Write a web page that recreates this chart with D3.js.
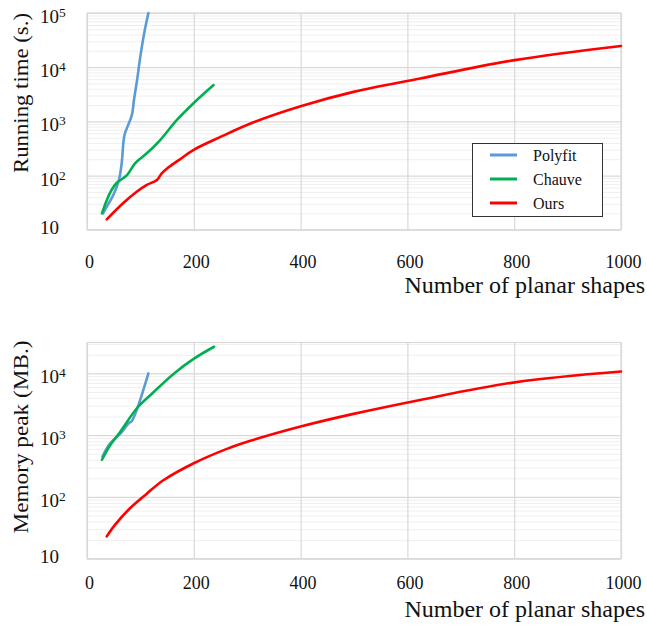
<!DOCTYPE html>
<html><head><meta charset="utf-8">
<script src="https://cdn.jsdelivr.net/npm/d3@7"></script>
<style>
body{margin:0;background:#fff}
text{font-family:"Liberation Serif","DejaVu Serif",serif;fill:#111}
</style>
</head><body>
<svg id="c" width="647" height="626"></svg>
<script>
// ---- data ----
const shapeTicks = [0, 200, 400, 600, 800, 1000];
const timeTicks = [10, 100, 1000, 10000, 100000];
const memTicks = [10, 100, 1000, 10000];
const methods = ["Polyfit", "Chauve", "Ours"];
const methodColors = ["#5B9BD5", "#00B050", "#FF0000"];

const polyfitTimeN = [30, 40, 50, 60, 65, 70, 77, 84, 88, 94, 100, 107, 115];
const polyfitTimeV = [20, 30, 45, 85, 170, 550, 850, 1300, 2500, 6000, 16000, 42000, 100000];
const chauveTimeN = [28, 37, 46, 55, 75, 90, 112, 137, 168, 199, 237];
const chauveTimeV = [20, 35, 54, 72, 102, 168, 257, 452, 1050, 2140, 4680];
const oursTimeN = [37, 68, 93, 112, 131, 140, 150, 174, 199, 249, 312, 400, 499, 624, 801, 1000];
const oursTimeV = [15.5, 31, 50, 67, 83, 110, 135, 199, 295, 510, 960, 1900, 3500, 6200, 13500, 24600];

const polyfitMemN = [29, 43, 62, 78, 84, 115];
const polyfitMemV = [450, 730, 1050, 1550, 1700, 10000];
const chauveMemN = [28, 43, 62, 93, 124, 162, 199, 238];
const chauveMemV = [400, 680, 1120, 2700, 4900, 9800, 17000, 27000];
const oursMemN = [37, 52, 80, 112, 143, 199, 262, 306, 400, 499, 624, 801, 1000];
const oursMemV = [23, 35, 65, 113, 186, 348, 600, 810, 1380, 2210, 3720, 7160, 10700];

const xTitle = "Number of planar shapes";
const yTitles = ["Running time (s.)", "Memory peak (MB.)"];

// ---- layout ----
const svg = d3.select("#c");
const X0 = 87, X1 = 621;
const x = d3.scaleLinear().domain([0, 1000]).range([X0, X1]);

const panels = [
  {top: 13, bottom: 229.7, max: 1e5, ticks: timeTicks, title: yTitles[0], titleC: 93, titleLen: 160,
   series: [[polyfitTimeN, polyfitTimeV], [chauveTimeN, chauveTimeV], [oursTimeN, oursTimeV]],
   xLabY: 268, xTitleY: 293, legend: true},
  {top: 342.5, bottom: 558.7, max: Math.pow(10, 4.5), ticks: memTicks, title: yTitles[1], titleC: 437, titleLen: 193,
   series: [[polyfitMemN, polyfitMemV], [chauveMemN, chauveMemV], [oursMemN, oursMemV]],
   xLabY: 589, xTitleY: 617, legend: false}
];

panels.forEach(p => {
  const y = d3.scaleLog().domain([10, p.max]).range([p.bottom, p.top]);
  const g = svg.append("g");
  const W = X1 - X0;

  // minor gridlines
  const minor = [];
  for (let e = 1; e <= 5; e++) for (let k = 2; k <= 9; k++) {
    const v = k * Math.pow(10, e);
    if (v < p.max) minor.push(v);
  }
  g.append("g").attr("transform", `translate(${X0},0)`)
    .call(d3.axisLeft(y).tickValues(minor).tickSize(-W).tickFormat(""))
    .call(a => a.select(".domain").remove())
    .call(a => a.selectAll("line").attr("stroke", "#efefef").attr("stroke-width", 1));

  // major horizontal gridlines
  g.append("g").attr("transform", `translate(${X0},0)`)
    .call(d3.axisLeft(y).tickValues(p.ticks).tickSize(-W).tickFormat(""))
    .call(a => a.select(".domain").remove())
    .call(a => a.selectAll("line").attr("stroke", "#d9d9d9").attr("stroke-width", 1.2));

  // vertical gridlines
  g.append("g").attr("transform", `translate(0,${p.bottom})`)
    .call(d3.axisBottom(x).tickValues(shapeTicks).tickSize(-(p.bottom - p.top)).tickFormat(""))
    .call(a => a.select(".domain").remove())
    .call(a => a.selectAll("line").attr("stroke", "#d9d9d9").attr("stroke-width", 1.2));

  // frame
  g.append("rect").attr("x", X0).attr("y", p.top).attr("width", W).attr("height", p.bottom - p.top)
    .attr("fill", "none").attr("stroke", "#d9d9d9").attr("stroke-width", 1.2);

  // y tick labels
  const yl = g.append("g").attr("transform", `translate(40,0)`)
    .call(d3.axisRight(y).tickValues(p.ticks).tickSize(0).tickPadding(0).tickFormat(""));
  yl.select(".domain").remove();
  yl.selectAll(".tick").each(function(d) {
    const e = Math.round(Math.log10(d));
    const t = d3.select(this).append("text")
      .attr("x", 0).attr("y", e === 1 ? 4 : 9.5)
      .attr("text-anchor", "start").style("font-size", "19px").style("fill", "#111");
    t.append("tspan").text("10");
    if (e > 1) t.append("tspan").attr("dy", -6).style("font-size", "13.5px").text(String(e));
  });

  // x tick labels
  const xl = g.append("g").attr("transform", `translate(2,${p.xLabY})`)
    .call(d3.axisBottom(x).tickValues(shapeTicks).tickSize(0).tickPadding(0).tickFormat(d3.format("d")));
  xl.select(".domain").remove();
  xl.selectAll("text").attr("dy", 0).style("font-size", "18px").style("fill", "#111")
    .style("font-family", '"Liberation Serif","DejaVu Serif",serif');

  // titles
  g.append("text").attr("x", 645).attr("y", p.xTitleY).attr("text-anchor", "end")
    .style("font-size", "24px").text(xTitle);
  g.append("text").attr("transform", `translate(28,${p.titleC}) rotate(-90)`)
    .attr("text-anchor", "middle").style("font-size", "22px")
    .attr("textLength", p.titleLen).attr("lengthAdjust", "spacingAndGlyphs").text(p.title);

  // lines
  const line = d3.line().x(d => x(d[0])).y(d => y(d[1])).curve(d3.curveCatmullRom.alpha(0.5));
  p.series.forEach((s, i) => {
    const pts = s[0].map((n, j) => [n, s[1][j]]);
    g.append("path").datum(pts).attr("d", line).attr("fill", "none")
      .attr("stroke", methodColors[i]).attr("stroke-width", 2.6)
      .attr("stroke-linejoin", "round").attr("stroke-linecap", "round");
  });

  // legend
  if (p.legend) {
    const lg = g.append("g");
    lg.append("rect").attr("x", 472.5).attr("y", 143.5).attr("width", 130).attr("height", 73)
      .attr("fill", "#fff").attr("stroke", "#333").attr("stroke-width", 1);
    methods.forEach((m, i) => {
      const cy = 155 + i * 24;
      lg.append("line").attr("x1", 490).attr("x2", 517).attr("y1", cy).attr("y2", cy)
        .attr("stroke", methodColors[i]).attr("stroke-width", 3);
      lg.append("text").attr("x", 533).attr("y", cy + 6).style("font-size", "16px").text(m);
    });
  }
});
</script>
</body></html>
